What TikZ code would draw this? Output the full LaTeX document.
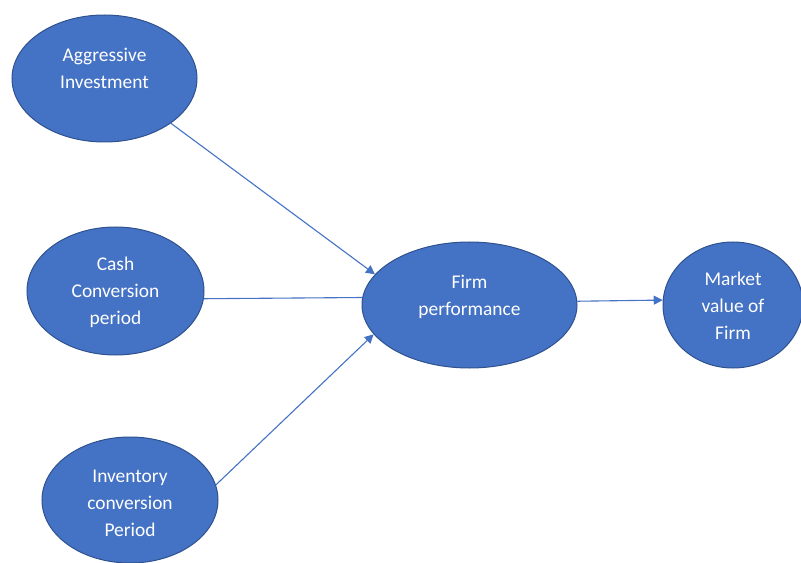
\documentclass[tikz,border=0pt]{standalone}
\usepackage{fontspec}
\setmainfont{Carlito}
\usetikzlibrary{shapes.geometric,arrows.meta}
\definecolor{ofblue}{HTML}{4472C4}
\definecolor{ofedge}{HTML}{2F528F}
\newcommand{\ovtext}[2]{\raisebox{#1}[0pt][0pt]{\begin{tabular}{@{}c@{}}#2\end{tabular}}}
\tikzset{
  bubble/.style={ellipse, draw=ofedge, line width=1bp, fill=ofblue, inner sep=0pt,
    text=white, font=\fontsize{19.5}{27}\selectfont},
  link/.style={draw=ofblue, line width=1.1bp},
  arrowlink/.style={link, -{Triangle[length=9bp,width=9bp]}}
}
\begin{document}
\begin{tikzpicture}[x=1bp,y=-1bp]
\useasboundingbox (0,0) rectangle (801,563);
\node[bubble, minimum width=185bp, minimum height=127bp] (agg) at (104.5,78.5)
  {\ovtext{3.5bp}{Aggressive\\Investment}};
\node[bubble, minimum width=177bp, minimum height=128bp] (cash) at (115.5,291)
  {\ovtext{-6bp}{Cash\\Conversion\\period}};
\node[bubble, minimum width=176bp, minimum height=126bp] (inv) at (130,500)
  {\ovtext{-9bp}{Inventory\\conversion\\Period}};
\node[bubble, minimum width=215bp, minimum height=126bp] (firm) at (469.5,305)
  {\ovtext{3bp}{Firm\\performance}};
\node[bubble, minimum width=140bp, minimum height=126bp] (market) at (733,305)
  {\ovtext{-7bp}{Market\\value of\\Firm}};
\draw[arrowlink] (agg.-34.6) -- (firm.162.9);
\draw[link] (cash.-5.2) -- (firm.176.8);
\draw[arrowlink] (inv.10.9) -- (firm.197.1);
\draw[arrowlink] (firm.2.7) -- (market.176);
\end{tikzpicture}
\end{document}
